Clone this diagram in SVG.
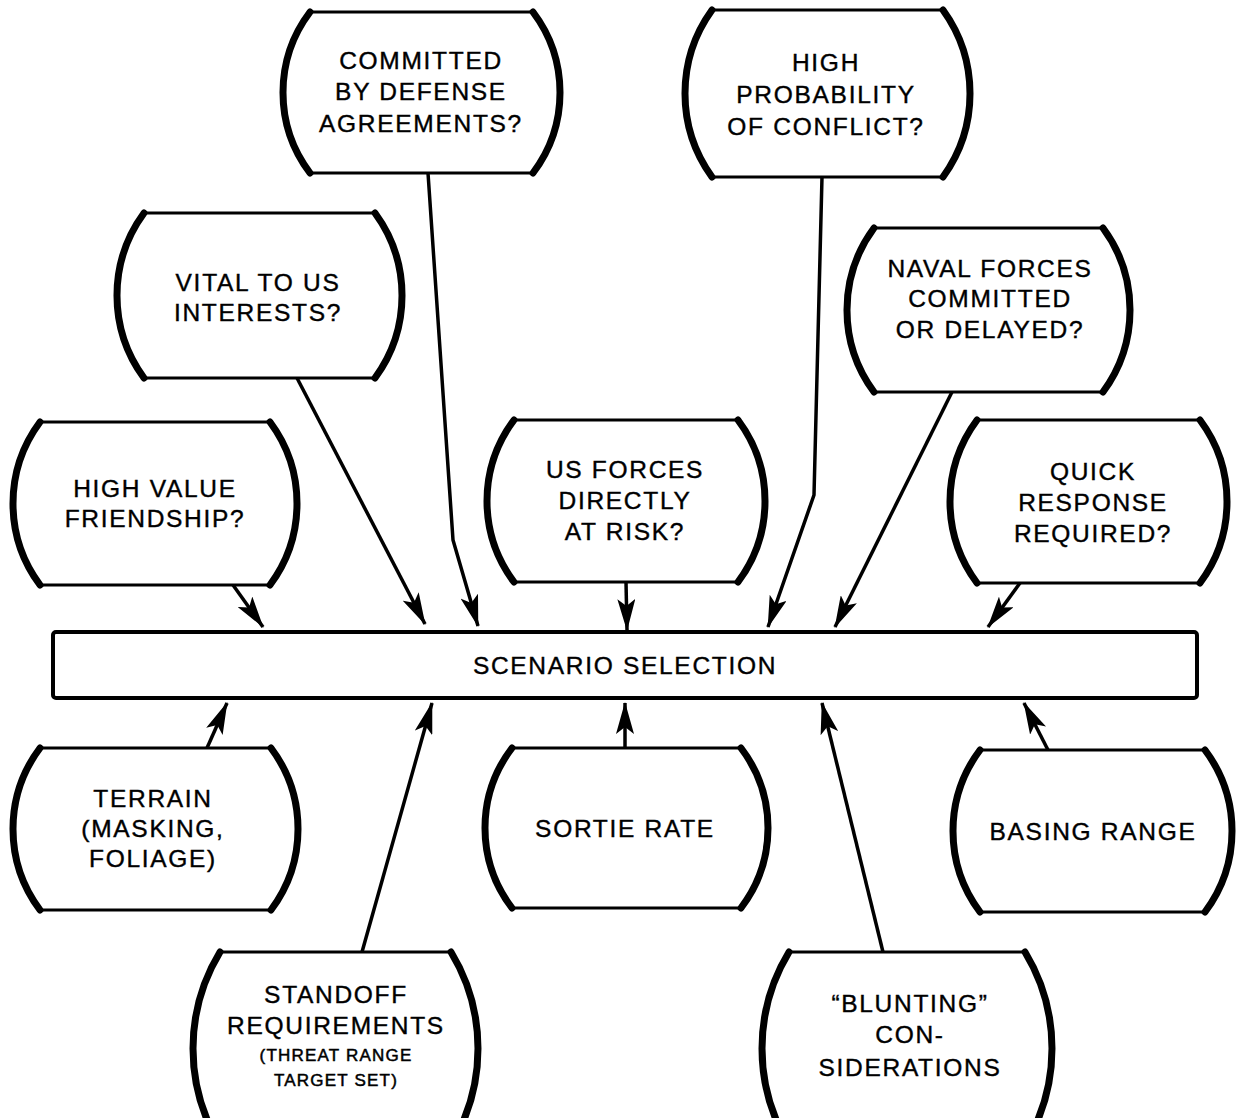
<svg xmlns="http://www.w3.org/2000/svg" width="1238" height="1118" viewBox="0 0 1238 1118">
<style>
.body{fill:#fff;stroke:#000;stroke-width:3.2;stroke-linejoin:round}
.side{fill:none;stroke:#000;stroke-width:7;stroke-linecap:round}
.t{font-family:"Liberation Sans",Arial,Helvetica,sans-serif;font-size:24.5px;letter-spacing:1.7px;text-anchor:middle;fill:#000;stroke:#000;stroke-width:0.4}
.s{font-size:17px;letter-spacing:1.2px;stroke-width:0.5}
.c{fill:none;stroke:#000;stroke-width:3.5;stroke-linejoin:round}
</style>
<defs>
<marker id="ah" viewBox="0 0 32 18" refX="31" refY="9" markerWidth="32" markerHeight="18" orient="auto" markerUnits="userSpaceOnUse">
<path d="M0,0 L32,9 L0,18 L7,9 Z" fill="#000"/>
</marker>
</defs>
<rect width="1238" height="1118" fill="#fff"/>

<g id="n-committed">
<path class="body" d="M310,12 H533 A133.5 133.5 0 0 1 533,173 H310 A133.5 133.5 0 0 1 310,12 Z"/>
<path class="side" d="M533,12 A133.5 133.5 0 0 1 533,173 M310,173 A133.5 133.5 0 0 1 310,12"/>
<text class="t" x="421" y="69">COMMITTED</text>
<text class="t" x="421" y="100">BY DEFENSE</text>
<text class="t" x="421" y="132">AGREEMENTS?</text>
</g>

<g id="n-probability">
<path class="body" d="M712,10 H943 A142.6 142.6 0 0 1 943,177 H712 A142.6 142.6 0 0 1 712,10 Z"/>
<path class="side" d="M943,10 A142.6 142.6 0 0 1 943,177 M712,177 A142.6 142.6 0 0 1 712,10"/>
<text class="t" x="826" y="71">HIGH</text>
<text class="t" x="826" y="103">PROBABILITY</text>
<text class="t" x="826" y="135">OF CONFLICT?</text>
</g>

<g id="n-vital">
<path class="body" d="M144,213 H375 A139.5 139.5 0 0 1 375,378 H144 A139.5 139.5 0 0 1 144,213 Z"/>
<path class="side" d="M375,213 A139.5 139.5 0 0 1 375,378 M144,378 A139.5 139.5 0 0 1 144,213"/>
<text class="t" x="258" y="291">VITAL TO US</text>
<text class="t" x="258" y="321">INTERESTS?</text>
</g>

<g id="n-naval">
<path class="body" d="M874,228 H1103 A138 138 0 0 1 1103,392 H874 A138 138 0 0 1 874,228 Z"/>
<path class="side" d="M1103,228 A138 138 0 0 1 1103,392 M874,392 A138 138 0 0 1 874,228"/>
<text class="t" x="990" y="277">NAVAL FORCES</text>
<text class="t" x="990" y="307">COMMITTED</text>
<text class="t" x="990" y="338">OR DELAYED?</text>
</g>

<g id="n-friendship">
<path class="body" d="M40,422 H270 A136.5 136.5 0 0 1 270,585 H40 A136.5 136.5 0 0 1 40,422 Z"/>
<path class="side" d="M270,422 A136.5 136.5 0 0 1 270,585 M40,585 A136.5 136.5 0 0 1 40,422"/>
<text class="t" x="155" y="497">HIGH VALUE</text>
<text class="t" x="155" y="527">FRIENDSHIP?</text>
</g>

<g id="n-usforces">
<path class="body" d="M514,420 H738 A135 135 0 0 1 738,582 H514 A135 135 0 0 1 514,420 Z"/>
<path class="side" d="M738,420 A135 135 0 0 1 738,582 M514,582 A135 135 0 0 1 514,420"/>
<text class="t" x="625" y="478">US FORCES</text>
<text class="t" x="625" y="509">DIRECTLY</text>
<text class="t" x="625" y="540">AT RISK?</text>
</g>

<g id="n-quick">
<path class="body" d="M977,420 H1200 A136.5 136.5 0 0 1 1200,583 H977 A136.5 136.5 0 0 1 977,420 Z"/>
<path class="side" d="M1200,420 A136.5 136.5 0 0 1 1200,583 M977,583 A136.5 136.5 0 0 1 977,420"/>
<text class="t" x="1093" y="480">QUICK</text>
<text class="t" x="1093" y="511">RESPONSE</text>
<text class="t" x="1093" y="542">REQUIRED?</text>
</g>

<g id="n-scenario">
<rect x="53" y="632" width="1144" height="66" rx="3" fill="#fff" stroke="#000" stroke-width="4"/>
<text class="t" x="625" y="674">SCENARIO SELECTION</text>
</g>

<g id="n-terrain">
<path class="body" d="M40,748 H271 A135 135 0 0 1 271,910 H40 A135 135 0 0 1 40,748 Z"/>
<path class="side" d="M271,748 A135 135 0 0 1 271,910 M40,910 A135 135 0 0 1 40,748"/>
<text class="t" x="153" y="807">TERRAIN</text>
<text class="t" x="153" y="837">(MASKING,</text>
<text class="t" x="153" y="867">FOLIAGE)</text>
</g>

<g id="n-sortie">
<path class="body" d="M512,748 H741 A132 132 0 0 1 741,908 H512 A132 132 0 0 1 512,748 Z"/>
<path class="side" d="M741,748 A132 132 0 0 1 741,908 M512,908 A132 132 0 0 1 512,748"/>
<text class="t" x="625" y="837">SORTIE RATE</text>
</g>

<g id="n-basing">
<path class="body" d="M980,750 H1205 A135 135 0 0 1 1205,912 H980 A135 135 0 0 1 980,750 Z"/>
<path class="side" d="M1205,750 A135 135 0 0 1 1205,912 M980,912 A135 135 0 0 1 980,750"/>
<text class="t" x="1093" y="840">BASING RANGE</text>
</g>

<g id="n-standoff">
<path class="body" d="M220,952 H451 A186 186 0 0 1 451,1145 H220 A186 186 0 0 1 220,952 Z"/>
<path class="side" d="M451,952 A186 186 0 0 1 451,1145 M220,1145 A186 186 0 0 1 220,952"/>
<text class="t" x="336" y="1003">STANDOFF</text>
<text class="t" x="336" y="1034">REQUIREMENTS</text>
<text class="t s" x="336" y="1061">(THREAT RANGE</text>
<text class="t s" x="336" y="1086">TARGET SET)</text>
</g>

<g id="n-blunting">
<path class="body" d="M789,952 H1025 A186 186 0 0 1 1025,1145 H789 A186 186 0 0 1 789,952 Z"/>
<path class="side" d="M1025,952 A186 186 0 0 1 1025,1145 M789,1145 A186 186 0 0 1 789,952"/>
<text class="t" x="910" y="1012">“BLUNTING”</text>
<text class="t" x="910" y="1043">CON-</text>
<text class="t" x="910" y="1076">SIDERATIONS</text>
</g>

<g id="connectors">
<path class="c" marker-end="url(#ah)" d="M233,585 L263,627"/>
<path class="c" marker-end="url(#ah)" d="M297,378 L425,624"/>
<path class="c" marker-end="url(#ah)" d="M428,173 L453,540 L478,626"/>
<path class="c" marker-end="url(#ah)" d="M626,582 L627,630"/>
<path class="c" marker-end="url(#ah)" d="M822,177 L814,495 L768,627"/>
<path class="c" marker-end="url(#ah)" d="M952,392 L835,627"/>
<path class="c" marker-end="url(#ah)" d="M1020,583 L988,627"/>
<path class="c" marker-end="url(#ah)" d="M207,748 L227,703"/>
<path class="c" marker-end="url(#ah)" d="M362,952 L432,703"/>
<path class="c" marker-end="url(#ah)" d="M625,748 L625,703"/>
<path class="c" marker-end="url(#ah)" d="M883,952 L822,703"/>
<path class="c" marker-end="url(#ah)" d="M1048,750 L1024,703"/>
</g>
</svg>
